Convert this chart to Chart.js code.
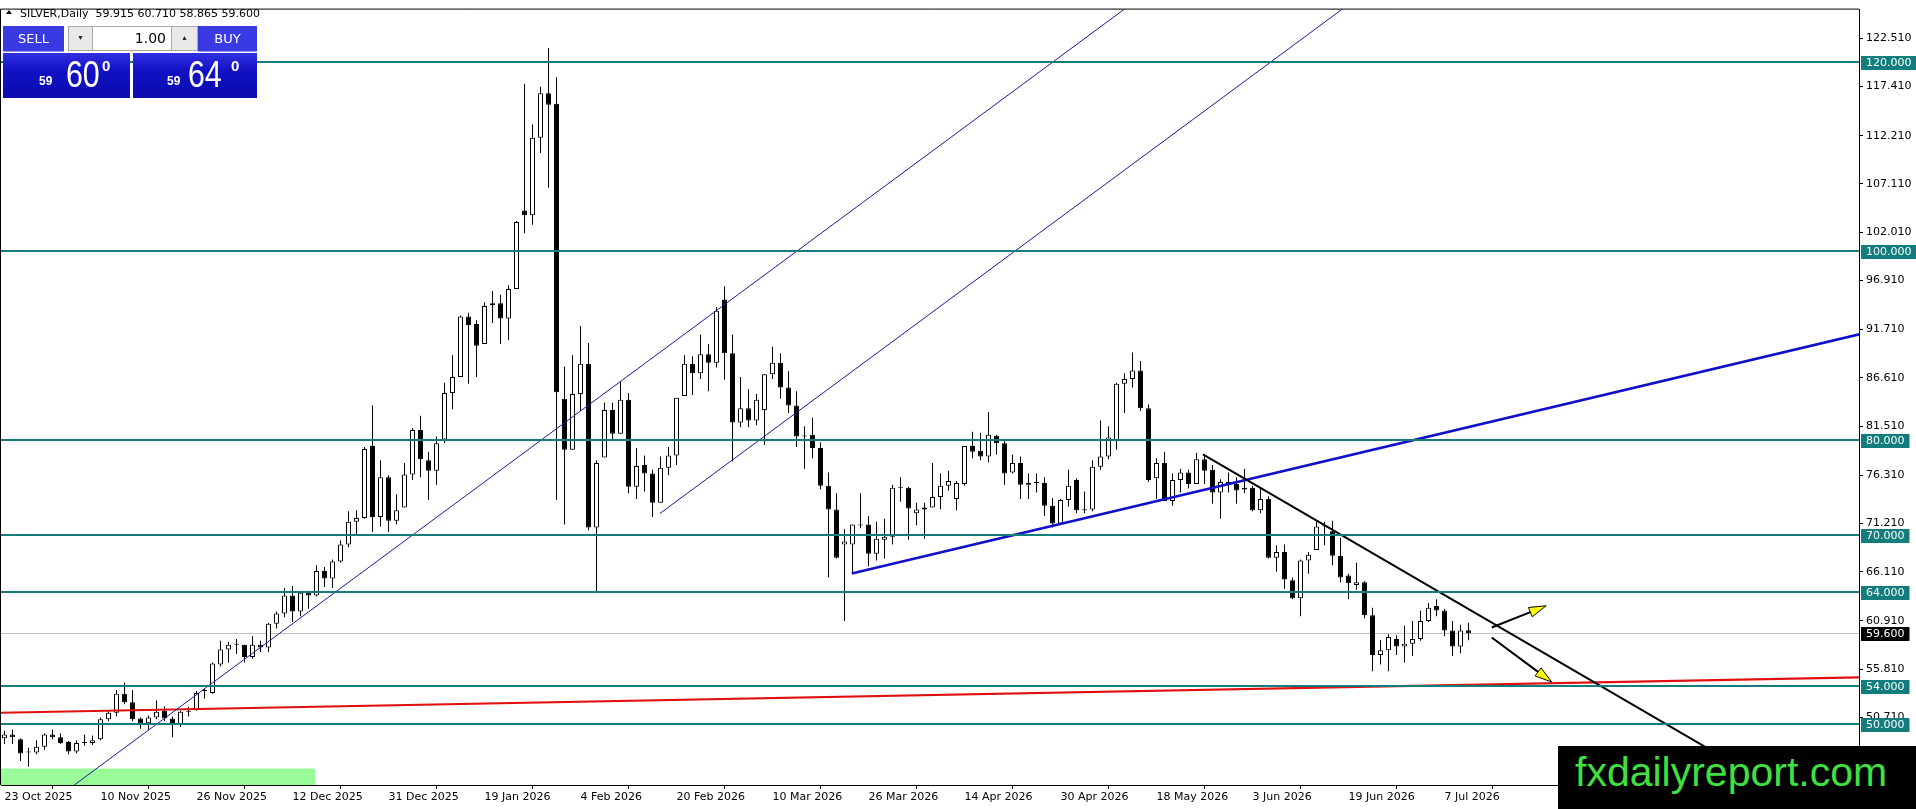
<!DOCTYPE html>
<html>
<head>
<meta charset="utf-8">
<title>SILVER, Daily</title>
<script src="https://cdn.jsdelivr.net/npm/chart.js@4.4.1/dist/chart.umd.min.js"></script>
<style>
  body { margin: 0; background: #fff; overflow: hidden; }
  #wrap { position: relative; width: 1916px; height: 809px; }
  #chart { position: absolute; left: 0; top: 0; }
  #tri { position: absolute; left: 6px; top: 10px; width: 0; height: 0; border-left: 3px solid transparent; border-right: 3px solid transparent; border-bottom: 4px solid #000; }
  #title { position: absolute; left: 20px; top: 7px; font: 11px 'DejaVu Sans', sans-serif; line-height: 13px; color: #000; white-space: pre; }
  .box { position: absolute; box-sizing: border-box; }
  .btn { background: #3a3ae4; color: #fff; font: 13px 'DejaVu Sans', sans-serif; text-align: center; line-height: 25px; border-bottom: 1px solid #9a9af0; }
  .spin { background: #e9e9e9; border: 1px solid #a8a8a8; font-size: 7px; text-align: center; line-height: 23px; color: #222; }
  .lots { background: #fff; border: 1px solid #a8a8a8; border-left: 0; border-right: 0; font: 14px 'DejaVu Sans', sans-serif; text-align: right; padding-right: 5px; line-height: 23px; }
  .quote { background: linear-gradient(#3030e2, #1212c4 40%, #0c0cb0); }
  .q { position: absolute; color: #fff; font-family: 'Liberation Sans', Arial, sans-serif; white-space: pre; }
  .sm { font-size: 12px; font-weight: bold; line-height: 12px; }
  .big { font-size: 37px; line-height: 37px; transform: scaleX(0.82); transform-origin: 0 0; }
  .sup { font-size: 15px; font-weight: bold; line-height: 15px; }
  #brand { position: absolute; left: 1558px; top: 746px; width: 358px; height: 63px; background: #000; color: #3fe03f; font: 41px 'Liberation Sans', Arial, sans-serif; line-height: 42px; padding: 5px 0 0 17px; box-sizing: border-box; white-space: nowrap; }
</style>
</head>
<body>
<div id="wrap">
  <canvas id="chart" width="1916" height="809"></canvas>
  <div id="tri"></div>
  <div id="title"></div>

  <div class="box btn" style="left:3px;top:26px;width:61px;height:26px;">SELL</div>
  <div class="box spin" style="left:68px;top:26px;width:25px;height:25px;">&#9660;</div>
  <div class="box lots" style="left:93px;top:26px;width:78px;height:25px;">1.00</div>
  <div class="box spin" style="left:171px;top:26px;width:27px;height:25px;">&#9650;</div>
  <div class="box btn" style="left:198px;top:26px;width:59px;height:26px;">BUY</div>

  <div class="box quote" style="left:3px;top:53px;width:127px;height:45px;"></div>
  <div class="box quote" style="left:133px;top:53px;width:124px;height:45px;"></div>
  <span class="q sm" style="left:39px;top:75px;">59</span>
  <span class="q big" style="left:66px;top:56px;">60</span>
  <span class="q sup" style="left:102px;top:58px;">0</span>
  <span class="q sm" style="left:167px;top:75px;">59</span>
  <span class="q big" style="left:188px;top:56px;">64</span>
  <span class="q sup" style="left:231px;top:58px;">0</span>

  <div id="brand">fxdailyreport.com</div>
</div>
<script>
// daily candles, one entry per bar (23 Oct 2025 .. 9 Jul 2026)
const opens = [
  48.5, 48.9, 48.4, 47.1, 47.0, 47.6, 48.9, 48.6, 48.1, 47.1,
  48.0, 48.0, 48.4, 50.5, 51.2, 53.2, 52.3, 50.6, 50.1, 50.7,
  51.4, 50.6, 50.0, 51.3, 51.5, 53.5, 53.3, 56.3, 57.9, 58.4,
  58.4, 57.1, 58.4, 58.1, 60.6, 61.7, 63.6, 61.9, 63.9, 63.6,
  66.2, 65.4, 67.2, 69.0, 71.4, 71.8, 79.4, 71.9, 76.1, 71.5,
  72.9, 76.4, 81.1, 77.9, 76.8, 80.1, 85.0, 86.7, 93.1, 92.3,
  90.2, 94.3, 94.5, 92.9, 96.0, 104.3, 103.8, 112.0, 116.7, 115.6,
  84.4, 79.0, 84.9, 88.1, 70.8, 78.2, 83.2, 80.7, 84.3, 75.1,
  77.4, 76.5, 73.4, 77.1, 78.4, 84.7, 88.1, 87.1, 89.1, 88.2,
  94.9, 89.2, 81.9, 83.4, 82.1, 83.2, 87.0, 88.2, 85.6, 83.7,
  80.5, 80.6, 79.2, 75.2, 72.7, 69.0, 69.0, 71.0, 71.1, 68.0,
  69.5, 69.8, 75.0, 75.0, 72.3, 72.7, 72.9, 74.0, 75.2, 73.8,
  75.4, 79.4, 78.9, 78.3, 80.5, 79.7, 76.6, 77.6, 75.3, 75.5,
  75.5, 73.1, 71.2, 73.7, 75.8, 72.7, 72.7, 77.2, 78.3, 80.0,
  86.0, 86.5, 87.4, 83.4, 76.0, 77.6, 73.6, 75.8, 76.6, 75.4,
  78.0, 76.9, 74.5, 75.3, 75.4, 74.8, 75.0, 72.6, 73.8, 67.6,
  68.2, 65.2, 63.3, 67.3, 68.4, 70.9, 70.4, 67.8, 65.7, 64.7,
  65.0, 61.5, 57.3, 57.8, 59.0, 58.2, 58.5, 59.0, 60.9, 62.5,
  62.0, 59.9, 58.2, 59.915
];
const highs = [
  49.3, 49.4, 48.5, 47.5, 48.3, 49.0, 49.4, 49.0, 48.2, 48.3,
  48.9, 48.8, 50.7, 51.5, 53.6, 54.4, 53.6, 50.7, 50.9, 52.5,
  51.9, 50.8, 51.4, 51.8, 53.5, 53.8, 56.5, 58.8, 58.7, 59.0,
  58.4, 59.3, 58.8, 60.7, 61.9, 64.4, 64.6, 63.9, 64.1, 66.8,
  66.6, 67.4, 69.4, 72.5, 72.6, 79.3, 83.7, 77.9, 76.3, 74.3,
  77.6, 81.3, 82.6, 78.8, 80.4, 86.1, 89.0, 93.2, 93.5, 92.7,
  94.6, 95.8, 95.4, 96.4, 103.2, 117.7, 113.4, 117.4, 121.5, 118.4,
  87.8, 89.0, 92.1, 90.3, 77.9, 84.0, 84.0, 86.2, 85.0, 79.2,
  78.4, 76.9, 78.3, 79.3, 84.5, 89.0, 88.9, 91.2, 90.2, 94.1,
  96.3, 91.2, 86.7, 85.4, 84.9, 87.0, 89.9, 89.2, 87.3, 85.2,
  81.5, 82.4, 79.8, 76.6, 74.4, 70.6, 71.1, 74.4, 72.0, 71.4,
  71.7, 75.3, 76.1, 75.1, 73.4, 73.4, 77.6, 76.5, 76.8, 75.7,
  79.4, 80.9, 80.8, 83.0, 80.6, 80.1, 78.5, 78.3, 76.5, 76.5,
  76.1, 73.9, 73.8, 76.9, 76.0, 74.6, 77.9, 82.1, 81.5, 86.1,
  87.1, 89.3, 88.4, 83.8, 78.1, 78.8, 76.5, 77.0, 76.9, 78.7,
  78.5, 77.4, 75.9, 76.6, 76.1, 77.0, 75.2, 75.0, 74.1, 68.9,
  69.0, 65.5, 67.4, 68.2, 71.4, 71.4, 71.5, 69.7, 65.9, 67.1,
  65.1, 62.3, 58.9, 59.5, 59.4, 60.4, 60.9, 62.0, 62.8, 63.2,
  62.2, 60.9, 60.5, 60.71
];
const lows = [
  47.9, 47.9, 46.1, 45.5, 46.8, 47.3, 48.4, 47.9, 46.8, 46.9,
  47.7, 47.8, 48.3, 50.3, 50.8, 52.1, 50.3, 49.5, 49.4, 50.5,
  50.3, 48.6, 49.7, 50.8, 51.4, 52.7, 53.2, 56.1, 56.5, 57.4,
  56.5, 56.9, 57.6, 57.6, 60.1, 61.3, 60.8, 61.4, 62.2, 63.5,
  64.5, 64.4, 67.1, 68.7, 70.1, 71.7, 70.3, 70.9, 70.3, 71.1,
  72.9, 75.8, 76.1, 73.7, 75.3, 79.7, 83.3, 86.7, 86.0, 86.7,
  90.2, 92.4, 90.2, 90.6, 96.0, 101.9, 102.8, 110.4, 106.7, 73.7,
  71.1, 79.0, 83.1, 70.5, 63.9, 78.2, 80.1, 80.7, 74.4, 73.8,
  74.6, 71.9, 73.4, 76.3, 77.4, 84.7, 84.8, 86.5, 85.2, 87.7,
  86.4, 77.8, 81.4, 81.4, 81.6, 79.5, 86.5, 84.4, 82.9, 79.3,
  77.0, 78.1, 74.8, 65.5, 67.5, 60.9, 66.0, 70.7, 66.7, 67.3,
  67.5, 69.0, 73.5, 69.5, 71.0, 69.6, 72.9, 72.7, 74.7, 72.6,
  75.2, 78.1, 77.9, 77.7, 78.5, 75.3, 76.5, 73.8, 73.8, 74.5,
  72.0, 70.8, 71.1, 73.0, 72.3, 72.3, 72.5, 76.9, 78.0, 79.0,
  82.9, 85.6, 83.1, 75.6, 73.8, 73.6, 73.1, 74.5, 74.9, 75.4,
  75.4, 73.3, 71.7, 74.5, 73.3, 74.4, 72.5, 72.3, 67.5, 66.1,
  64.3, 63.2, 61.4, 65.9, 68.4, 68.9, 66.8, 65.0, 63.2, 64.2,
  61.2, 55.6, 56.3, 55.6, 57.3, 56.5, 57.2, 58.8, 60.8, 61.4,
  59.3, 57.2, 57.5, 58.865
];
const closes = [
  48.9, 48.6, 46.9, 47.0, 47.6, 48.9, 48.6, 48.0, 47.1, 48.0,
  48.1, 48.3, 50.5, 51.2, 53.2, 52.3, 50.5, 50.1, 50.7, 51.3,
  50.6, 50.0, 51.3, 51.4, 53.3, 53.6, 56.4, 57.9, 58.4, 58.45,
  57.1, 58.4, 58.1, 60.6, 61.7, 63.6, 61.9, 63.9, 63.6, 66.2,
  65.4, 67.2, 69.0, 71.4, 71.8, 79.1, 71.9, 76.1, 71.5, 72.6,
  76.4, 81.1, 78.0, 76.8, 79.7, 85.0, 86.7, 93.1, 92.2, 90.0,
  94.2, 94.5, 92.9, 96.0, 103.1, 103.8, 112.0, 116.7, 115.5, 85.1,
  79.0, 84.9, 88.1, 70.8, 77.6, 83.2, 80.7, 84.3, 75.1, 77.3,
  76.5, 73.4, 77.1, 78.4, 84.5, 88.1, 87.1, 89.1, 88.2, 93.7,
  89.2, 81.9, 83.4, 82.1, 84.3, 87.0, 88.2, 85.6, 83.7, 80.4,
  80.4, 79.2, 75.2, 72.7, 67.6, 69.3, 71.1, 71.05, 68.0, 69.6,
  69.8, 75.0, 75.05, 72.8, 72.7, 72.9, 74.0, 75.2, 75.7, 75.5,
  79.4, 78.8, 78.3, 80.6, 79.7, 76.5, 77.6, 75.3, 75.5, 75.55,
  73.1, 71.2, 73.7, 75.2, 72.6, 72.6, 77.2, 78.3, 80.3, 86.0,
  86.5, 87.4, 83.4, 75.8, 77.6, 73.6, 75.8, 76.6, 75.4, 78.0,
  76.8, 74.5, 75.6, 75.6, 74.7, 75.0, 72.6, 73.8, 67.6, 68.2,
  65.3, 63.3, 67.3, 67.9, 70.9, 70.95, 67.8, 65.5, 64.9, 65.0,
  61.5, 57.3, 57.8, 59.2, 58.2, 58.5, 59.0, 60.9, 62.3, 62.0,
  59.9, 58.2, 59.9, 59.6
];

// x axis: a date label every 12 bars
const dateLabels = ['23 Oct 2025', '10 Nov 2025', '26 Nov 2025', '12 Dec 2025', '31 Dec 2025', '19 Jan 2026',
  '4 Feb 2026', '20 Feb 2026', '10 Mar 2026', '26 Mar 2026', '14 Apr 2026', '30 Apr 2026',
  '18 May 2026', '3 Jun 2026', '19 Jun 2026', '7 Jul 2026'];
const labelStep = 12;
const priceTicks = [122.51, 117.41, 112.21, 107.11, 102.01, 96.91, 91.71, 86.61, 81.51,
  76.31, 71.21, 66.11, 60.91, 55.81, 50.71, 45.61];

// horizontal levels and the bid
const levels = [120, 100, 80, 70, 64, 54, 50];
const bid = 59.6;

// drawn objects, anchors as [bar, price]
const channelLower = [[11.5, 45.3], [82.0, 89.36]];
const channelUpper = [[81.9, 72.25], [122.2, 97.45]];
const blueSupport = [[105.9, 65.93], [185.7, 81.95]];
const redTrend = [[-0.44, 51.19], [231.8, 54.94]];
const blackTrend = [[149.8, 78.53], [185.7, 60.84]];
const arrowUp = [[185.9, 60.21], [192.7, 62.51]];
const arrowDown = [[185.9, 59.16], [193.4, 54.45]];
const greenZone = [[-0.44, 43.56], [38.8, 45.3]];

const last = closes.length - 1;
document.getElementById('title').textContent = 'SILVER,Daily  ' +
  [opens[last], highs[last], lows[last], closes[last]].map(v => v.toFixed(3)).join(' ');

const teal = '#127d7c';
const font11 = '11px "DejaVu Sans"';

function toPx(chart, p) {
  return [chart.scales.x.getPixelForValue(p[0]), chart.scales.y.getPixelForValue(p[1])];
}

// back/fwd = how far to extend past each anchor (in anchor lengths)
function drawLine(ctx, chart, pts, back, fwd, color, width) {
  const a = toPx(chart, pts[0]), b = toPx(chart, pts[1]);
  const dx = b[0] - a[0], dy = b[1] - a[1];
  ctx.strokeStyle = color;
  ctx.lineWidth = width;
  ctx.beginPath();
  ctx.moveTo(a[0] - dx * back, a[1] - dy * back);
  ctx.lineTo(b[0] + dx * fwd, b[1] + dy * fwd);
  ctx.stroke();
}

function drawArrow(ctx, chart, pts) {
  const a = toPx(chart, pts[0]), b = toPx(chart, pts[1]);
  const dx = b[0] - a[0], dy = b[1] - a[1];
  const len = Math.hypot(dx, dy), ux = dx / len, uy = dy / len;
  const hx = b[0] - ux * 17, hy = b[1] - uy * 17;
  ctx.strokeStyle = '#000';
  ctx.lineWidth = 2;
  ctx.beginPath();
  ctx.moveTo(a[0], a[1]);
  ctx.lineTo(hx, hy);
  ctx.stroke();
  ctx.fillStyle = '#ffff00';
  ctx.lineWidth = 1;
  ctx.beginPath();
  ctx.moveTo(b[0], b[1]);
  ctx.lineTo(hx - uy * 5, hy + ux * 5);
  ctx.lineTo(hx + uy * 5, hy - ux * 5);
  ctx.closePath();
  ctx.fill();
  ctx.stroke();
}

const objects = {
  id: 'objects',
  beforeDatasetsDraw(chart) {
    const { ctx, chartArea: area } = chart;
    ctx.save();
    ctx.beginPath();
    ctx.rect(area.left, area.top, area.width, area.height);
    ctx.clip();
    const g1 = toPx(chart, greenZone[0]), g2 = toPx(chart, greenZone[1]);
    ctx.fillStyle = '#98fb98';
    ctx.fillRect(g1[0], g2[1], g2[0] - g1[0], g1[1] - g2[1]);
    const by = Math.round(chart.scales.y.getPixelForValue(bid)) + 0.5;
    ctx.strokeStyle = '#c0c0c0';
    ctx.lineWidth = 1;
    ctx.beginPath();
    ctx.moveTo(area.left, by);
    ctx.lineTo(area.right, by);
    ctx.stroke();
    ctx.restore();
  },
  afterDatasetsDraw(chart) {
    const { ctx, chartArea: area, scales: { y } } = chart;
    ctx.save();
    ctx.beginPath();
    ctx.rect(area.left, area.top, area.width, area.height);
    ctx.clip();
    drawLine(ctx, chart, redTrend, 1, 1, '#e01010', 2);
    drawLine(ctx, chart, channelLower, 1, 2, '#1a1aa0', 1);
    drawLine(ctx, chart, channelUpper, 0, 3, '#1a1aa0', 1);
    drawLine(ctx, chart, blueSupport, 0, 2, '#1010c8', 2.5);
    drawLine(ctx, chart, blackTrend, 0, 3, '#000', 2);
    drawArrow(ctx, chart, arrowUp);
    drawArrow(ctx, chart, arrowDown);
    ctx.strokeStyle = teal;
    ctx.lineWidth = 2;
    levels.forEach(v => {
      const py = Math.round(y.getPixelForValue(v));
      ctx.beginPath();
      ctx.moveTo(area.left, py);
      ctx.lineTo(area.right, py);
      ctx.stroke();
    });
    ctx.restore();
  },
  afterDraw(chart) {
    const { ctx, chartArea: area, scales: { y } } = chart;
    ctx.save();
    // frame top and left
    ctx.strokeStyle = '#000';
    ctx.lineWidth = 1;
    ctx.beginPath();
    ctx.moveTo(0.5, area.bottom);
    ctx.lineTo(0.5, area.top - 0.5);
    ctx.lineTo(area.right, area.top - 0.5);
    ctx.stroke();
    // price tags on the axis
    ctx.font = font11;
    ctx.textBaseline = 'middle';
    const tag = (v, bg) => {
      const text = v.toFixed(3);
      const py = Math.round(y.getPixelForValue(v));
      const w = ctx.measureText(text).width + 10;
      ctx.fillStyle = bg;
      ctx.fillRect(area.right + 2, py - 6, w, 14);
      ctx.fillStyle = '#fff';
      ctx.fillText(text, area.right + 7, py + 1);
    };
    levels.forEach(v => tag(v, teal));
    tag(bid, '#000');
    ctx.restore();
  }
};

const bodies = opens.map((o, i) => ({ x: i, y: [o, closes[i]] }));
const wicks = lows.map((l, i) => ({ x: i, y: [l, highs[i]] }));
const bull = opens.map((o, i) => closes[i] >= o);

new Chart(document.getElementById('chart'), {
  type: 'bar',
  data: {
    datasets: [
      {
        data: bodies,
        order: 0,
        grouped: false,
        barThickness: 5,
        minBarLength: 1,
        inflateAmount: 0,
        borderSkipped: false,
        borderWidth: 1,
        borderColor: '#000',
        backgroundColor: bull.map(b => b ? '#fff' : '#000')
      },
      {
        data: wicks,
        order: 1,
        grouped: false,
        barThickness: 1,
        inflateAmount: 0,
        borderWidth: 0,
        backgroundColor: '#000'
      }
    ]
  },
  options: {
    responsive: false,
    devicePixelRatio: 1,
    animation: false,
    events: [],
    layout: { autoPadding: false, padding: { left: 1, top: 2, right: 0, bottom: 0 } },
    plugins: { legend: { display: false }, tooltip: { enabled: false } },
    scales: {
      x: {
        type: 'linear',
        offset: false,
        min: -0.44,
        max: 231.81,
        afterFit(scale) { scale.height = 24; },
        afterBuildTicks(scale) {
          scale.ticks = dateLabels.map((d, i) => ({ value: i * labelStep }));
        },
        grid: { drawOnChartArea: false, drawTicks: true, tickLength: 4, color: '#000' },
        border: { display: true, color: '#000', width: 1 },
        ticks: {
          autoSkip: false,
          maxRotation: 0,
          align: 'start',
          padding: 2,
          color: '#000',
          font: { family: 'DejaVu Sans', size: 11 },
          callback: v => dateLabels[Math.round(v / labelStep)]
        }
      },
      y: {
        position: 'right',
        min: 43.56,
        max: 125.55,
        afterFit(scale) { scale.width = 57; },
        afterBuildTicks(scale) {
          scale.ticks = priceTicks.map(v => ({ value: v }));
        },
        grid: { drawOnChartArea: false, drawTicks: true, tickLength: 4, color: '#000' },
        border: { display: true, color: '#000', width: 1 },
        ticks: {
          autoSkip: false,
          padding: 3,
          color: '#000',
          font: { family: 'DejaVu Sans', size: 11 },
          callback: v => v.toFixed(3)
        }
      }
    }
  },
  plugins: [objects]
});
</script>
</body>
</html>
